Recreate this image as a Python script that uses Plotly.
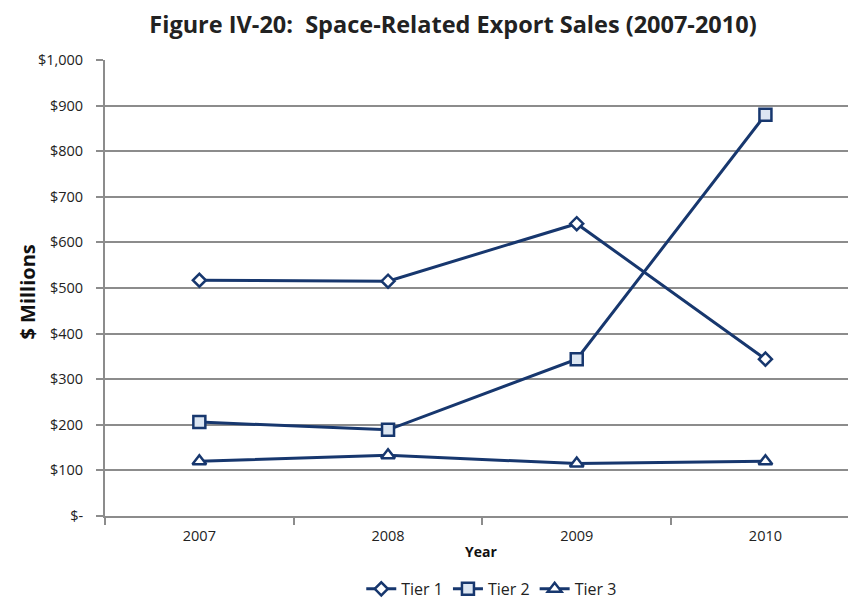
import plotly.graph_objects as go

years = ["2007", "2008", "2009", "2010"]
tier1 = [517, 515, 641, 344]
tier2 = [206, 189, 344, 880]
tier3 = [120, 133, 115, 120]
ytick_vals = [0, 100, 200, 300, 400, 500, 600, 700, 800, 900, 1000]
ytick_text = ["$-", "$100", "$200", "$300", "$400", "$500", "$600", "$700", "$800", "$900", "$1,000"]

navy = "#17376E"
fill = "#DCE6F2"
font = "Open Sans"

# The page body has an 8px margin, so the figure is 8px smaller and margins are shifted.
W, H = 848, 591

fig = go.Figure()
for name, vals, sym, sz in [("Tier 1", tier1, "diamond", 10), ("Tier 2", tier2, "square", 12), ("Tier 3", tier3, "triangle-up", 12)]:
    fig.add_trace(go.Scatter(
        x=years, y=vals, name=name, mode="lines+markers",
        line=dict(color=navy, width=3),
        marker=dict(symbol=sym, size=sz, color=fill if sym == "square" else "white",
                    line=dict(color=navy, width=2.5)),
    ))

fig.update_layout(
    width=W, height=H,
    margin=dict(l=97, r=0, t=52, b=83, autoexpand=False),
    paper_bgcolor="white", plot_bgcolor="white",
    title=dict(text="<b>Figure IV-20:  Space-Related Export Sales (2007-2010)</b>",
               x=445 / W, xanchor="center", y=1 - 17 / H, yanchor="middle",
               font=dict(family=font, size=23.5, color="#222222")),
    font=dict(family=font, size=15, color="#222222"),
    showlegend=True,
    legend=dict(orientation="h", x=0.515, xanchor="center", y=-0.16, yanchor="middle",
                font=dict(family=font, size=16, color="#222222"), itemwidth=30,
                tracegroupgap=0),
    xaxis=dict(type="category", range=[-0.5, 3.48], showgrid=False, automargin=False,
               showline=True, linecolor="#8C8C8C", linewidth=2,
               ticks="outside", tickson="boundaries", ticklen=7, tickcolor="#8C8C8C", tickwidth=2,
               ticklabelstandoff=6,
               tickfont=dict(family=font, size=14.5, color="#222222")),
    yaxis=dict(range=[0, 1000], tickvals=ytick_vals, ticktext=ytick_text, automargin=False,
               showgrid=True, gridcolor="#8C8C8C", gridwidth=1.5,
               showline=True, linecolor="#8C8C8C", linewidth=2,
               ticks="outside", ticklen=7, tickcolor="#8C8C8C", tickwidth=2,
               ticklabelstandoff=10,
               tickfont=dict(family=font, size=14.5, color="#222222"),
               zeroline=False),
    annotations=[
        dict(text="<b>$ Millions</b>", xref="paper", yref="paper", x=-0.1025, y=0.49,
             textangle=-90, showarrow=False, xanchor="center", yanchor="middle",
             font=dict(family=font, size=20, color="#111111")),
        dict(text="<b>Year</b>", xref="paper", yref="paper", x=0.5, y=-0.077,
             showarrow=False, xanchor="center", yanchor="middle",
             font=dict(family=font, size=14, color="#111111")),
    ],
)

fig.write_html("out.html")
